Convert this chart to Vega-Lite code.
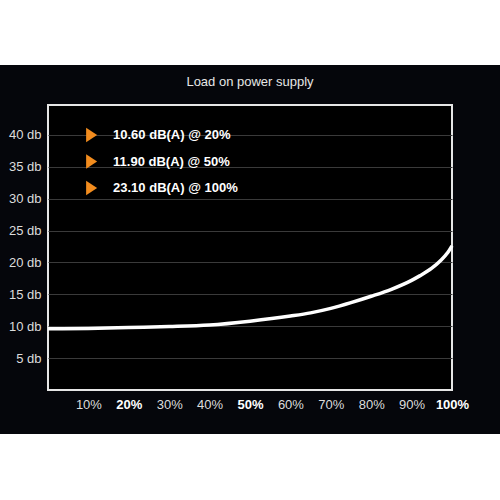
{
  "$schema": "https://vega.github.io/schema/vega-lite/v6.json",
  "width": 404,
  "height": 285,
  "autosize": {"type": "none"},
  "padding": {"left": 48, "top": 105, "right": 48, "bottom": 110},
  "background": "#05060b",
  "title": {"text": "Load on power supply", "fontSize": 13, "fontWeight": "normal", "color": "#e6e6e6", "font": "Liberation Sans", "anchor": "middle", "offset": 0, "baseline": "alphabetic", "dy": 99},
  "config": {"view": {"fill": "#000000", "stroke": "#e6e6e6", "strokeWidth": 2}, "font": "Liberation Sans"},
  "datasets": {
    "curve": [
      {"load": 0, "noise": 9.6},
      {"load": 10, "noise": 9.65},
      {"load": 20, "noise": 9.8},
      {"load": 30, "noise": 9.95},
      {"load": 40, "noise": 10.2},
      {"load": 50, "noise": 10.8},
      {"load": 60, "noise": 11.6},
      {"load": 65, "noise": 12.1},
      {"load": 70, "noise": 12.8},
      {"load": 75, "noise": 13.7},
      {"load": 80, "noise": 14.7},
      {"load": 85, "noise": 15.8},
      {"load": 90, "noise": 17.2},
      {"load": 92, "noise": 17.9},
      {"load": 95, "noise": 19.1},
      {"load": 97, "noise": 20.2},
      {"load": 99, "noise": 21.6},
      {"load": 100, "noise": 22.6}
    ],
    "notes": [
      {"load": 20, "noise": 10.6, "label": "10.60 dB(A) @ 20%"},
      {"load": 50, "noise": 11.9, "label": "11.90 dB(A) @ 50%"},
      {"load": 100, "noise": 23.1, "label": "23.10 dB(A) @ 100%"}
    ]
  },
  "layer": [
    {
      "layer": [
        {
          "data": {"values": [{}]},
          "mark": {"type": "rect", "color": "#ffffff"},
          "encoding": {
            "x": {"datum": -15, "type": "quantitative"},
            "x2": {"datum": 115},
            "y": {"datum": 50.97, "type": "quantitative"},
            "y2": {"datum": 61.17}
          }
        },
        {
          "data": {"values": [{}]},
          "mark": {"type": "rect", "color": "#ffffff"},
          "encoding": {
            "x": {"datum": -15, "type": "quantitative"},
            "x2": {"datum": 115},
            "y": {"datum": -6.9, "type": "quantitative"},
            "y2": {"datum": -25}
          }
        },
        {
          "data": {"name": "curve"},
          "mark": {"type": "line", "color": "#ffffff", "strokeWidth": 3.5, "interpolate": "monotone"},
          "encoding": {
            "x": {
              "field": "load", "type": "quantitative",
              "scale": {"domain": [0, 100], "nice": false, "zero": false},
              "axis": {
                "values": [10, 20, 30, 40, 50, 60, 70, 80, 90, 100],
                "labelExpr": "datum.value + '%'",
                "grid": false, "ticks": false, "domain": false, "title": null,
                "labelFontSize": 13, "labelFont": "Liberation Sans",
                "labelColor": {"condition": {"test": "datum.value == 20 || datum.value == 50 || datum.value == 100", "value": "#ffffff"}, "value": "#dcdcdc"},
                "labelFontWeight": {"condition": {"test": "datum.value == 20 || datum.value == 50 || datum.value == 100", "value": "bold"}, "value": "normal"},
                "labelPadding": 8, "labelFlush": false, "labelOverlap": false, "labelBound": false
              }
            },
            "y": {
              "field": "noise", "type": "quantitative",
              "scale": {"domain": [0, 44.7], "nice": false, "zero": false},
              "axis": {
                "values": [5, 10, 15, 20, 25, 30, 35, 40],
                "labelExpr": "datum.value + ' db'",
                "grid": true, "gridColor": "#3a3a3a", "gridWidth": 1,
                "ticks": false, "domain": false, "title": null,
                "labelFontSize": 13, "labelFont": "Liberation Sans", "labelColor": "#dcdcdc",
                "labelPadding": 7, "labelOverlap": false, "labelBound": false
              }
            }
          }
        }
      ]
    },
    {
      "data": {"name": "notes"},
      "layer": [
        {
          "mark": {"type": "point", "shape": "M-1,-1.3L1,0L-1,1.3Z", "filled": true, "color": "#f28c1e", "size": 121, "opacity": 1},
          "encoding": {
            "x": {"datum": 10.8, "type": "quantitative"},
            "y": {"field": "load", "type": "ordinal", "scale": {"type": "point", "range": [30, 83], "padding": 0}, "axis": null}
          }
        },
        {
          "mark": {"type": "text", "align": "left", "baseline": "middle", "fontWeight": "bold", "fontSize": 13, "color": "#ffffff", "font": "Liberation Sans"},
          "encoding": {
            "x": {"datum": 16.1, "type": "quantitative"},
            "y": {"field": "load", "type": "ordinal", "scale": {"type": "point", "range": [30, 83], "padding": 0}, "axis": null},
            "text": {"field": "label"}
          }
        }
      ]
    }
  ],
  "resolve": {"scale": {"y": "independent"}}
}
